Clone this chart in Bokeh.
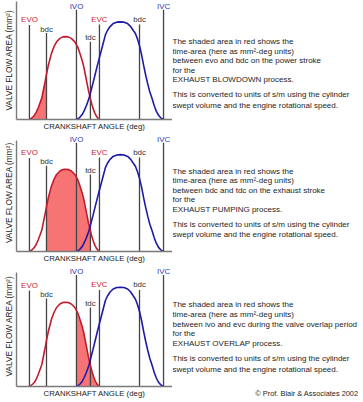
from bokeh.plotting import figure
from bokeh.models import Range1d, FixedTicker, Title
from bokeh.layouts import column, row
from bokeh.embed import file_html
from bokeh.resources import INLINE
from bokeh.core.properties import value

# ---------------- data ----------------
# exhaust valve flow area (red) vs crank angle, degrees
exhaust_deg = [114, 120, 127, 134, 141, 148, 155, 162, 168, 175, 180, 187, 193, 199,
               209, 219, 232, 243, 253, 264, 276, 286, 292, 296, 302, 312, 318, 324,
               330, 336, 342, 350, 356, 362, 368, 374, 380, 385]
exhaust_area = [0, 1, 2.5, 4.5, 7.7, 12, 17, 22, 30, 39, 46, 55, 61, 67,
                74, 79, 82.5, 84, 84.3, 84, 82.5, 80, 78, 76, 73, 65, 60, 54,
                46, 38, 30, 21, 15, 10, 6, 3, 1, 0]
# intake valve flow area (blue)
intake_deg = [296, 303, 310, 318, 326, 335, 344, 352, 360, 368, 376, 384, 392, 400,
              408, 416, 426, 438, 452, 466, 480, 494, 506, 516, 524, 532, 540, 548,
              556, 564, 572, 580, 589, 597, 605, 613, 621, 628, 634]
intake_area = [0, 1, 2.5, 5, 9, 14.5, 21, 29, 37, 45.5, 54, 62, 70, 78,
               86, 90.5, 94.5, 97.5, 99, 99.3, 99, 97.5, 94.5, 90.5, 87.5, 82, 75, 66,
               55, 45, 36, 28, 21, 14, 8.5, 4.5, 2, 0.7, 0]

# valve events / piston positions
event_names = ["EVO", "bdc", "IVO", "tdc", "EVC", "bdc", "IVC"]
event_deg = [114, 180, 296, 350, 385, 540, 633]
event_marker_top = [96, 88, 111.5, 79, 96.5, 96.5, 111.5]
event_label_at = [101.5, 92, 115, 83.5, 102, 102, 115]
event_kind = ["exhaust", "piston", "intake", "piston", "exhaust", "piston", "intake"]

# shaded time-area intervals of the three panels
shade_start = [114, 180, 296]
shade_end = [180, 350, 385]

panel_texts = [
    ["The shaded area in red shows the",
     "time-area (here as mm\u00b2-deg units)",
     "between evo and bdc on the power stroke",
     "for the",
     "EXHAUST BLOWDOWN process.",
     "This is converted to units of s/m using the cylinder",
     "swept volume and the engine rotational speed."],
    ["The shaded area in red shows the",
     "time-area (here as mm\u00b2-deg units)",
     "between bdc and tdc on the exhaust stroke",
     "for the",
     "EXHAUST PUMPING process.",
     "This is converted to units of s/m using the cylinder",
     "swept volume and the engine rotational speed."],
    ["The shaded area in red shows the",
     "time-area (here as mm\u00b2-deg units)",
     "between ivo and evc during the valve overlap period",
     "for the",
     "EXHAUST OVERLAP process.",
     "This is converted to units of s/m using the cylinder",
     "swept volume and the engine rotational speed."],
]
copyright_text = "\u00a9 Prof. Blair & Associates 2002"

# ---------------- layout / style ----------------
FONT = value("Liberation Sans")
X_START, X_END = 63.9, 667.7       # crank-angle span of the chart frame
Y_TOP = 121
CHART_W = 172
TEXT_W = 191
axis_tops = [120, 114, 114]
text_tops = [79.5, 82.3, 82.3]
line_offsets = [0, 10, 20, 29.3, 39, 54.3, 65]
fig_heights = [133, 132, 136]
bottom_borders = [12, 11, 15]

RED = "#c41a2e"
BLUE = "#1c1ca8"
FILL = "#f77474"
kind_color = {"exhaust": "#cc2233", "intake": "#3535b5", "piston": "#333333"}
label_colors = [kind_color[k] for k in event_kind]


def style_plain(p):
    p.outline_line_color = None
    p.grid.visible = False
    p.background_fill_color = "white"
    p.border_fill_color = "white"


def make_chart(i):
    p = figure(width=CHART_W, height=fig_heights[i], output_backend="svg",
               toolbar_location=None,
               x_range=Range1d(X_START, X_END), y_range=Range1d(0, Y_TOP),
               min_border_left=16, min_border_right=0, min_border_top=0,
               min_border_bottom=bottom_borders[i])
    style_plain(p)
    for ax in (p.xaxis[0], p.yaxis[0]):
        ax.ticker = FixedTicker(ticks=[])
        ax.major_tick_line_color = None
        ax.minor_tick_line_color = None
        ax.major_label_text_font_size = "0px"
        ax.major_label_standoff = 0
        ax.major_tick_out = 0
        ax.major_tick_in = 0
        ax.axis_line_color = "#7a7a7a"
        ax.axis_line_width = 1.4
        ax.axis_label_text_font = "Liberation Sans"
        ax.axis_label_text_font_style = "normal"
        ax.axis_label_text_color = "#222222"
    p.xaxis.axis_label = "CRANKSHAFT ANGLE (deg)"
    p.xaxis.axis_label_text_font_size = "7.8px"
    p.xaxis.axis_label_standoff = 2
    p.yaxis.axis_label = "VALVE FLOW AREA (mm\u00b2)"
    p.yaxis.axis_label_text_font_size = "8.3px"
    p.yaxis.axis_label_standoff = 3
    p.yaxis.bounds = (0, axis_tops[i])

    # shaded time-area under the exhaust curve
    xs = [d for d in exhaust_deg if shade_start[i] <= d <= shade_end[i]]
    ys = [a for d, a in zip(exhaust_deg, exhaust_area) if shade_start[i] <= d <= shade_end[i]]
    p.varea(x=xs, y1=[0] * len(xs), y2=ys, fill_color=FILL, fill_alpha=1.0)

    # event marker lines
    p.segment(x0=event_deg, y0=[0] * len(event_deg), x1=event_deg, y1=event_marker_top,
              line_color="#444444", line_width=1.3)

    # valve curves
    p.line(exhaust_deg, exhaust_area, line_color=RED, line_width=1.6)
    p.line(intake_deg, intake_area, line_color=BLUE, line_width=1.6)

    # event labels
    p.text(x=event_deg, y=event_label_at, text=event_names, text_color=label_colors,
           text_font=FONT, text_font_size="7.9px", text_align="center",
           text_baseline="middle")
    return p


def make_text(i):
    # frames in a row are aligned with the chart frame, so share its y scale
    p = figure(width=TEXT_W, height=fig_heights[i], output_backend="svg",
               toolbar_location=None, x_range=Range1d(0, TEXT_W),
               y_range=Range1d(0, Y_TOP),
               x_axis_location=None, y_axis_location=None,
               min_border_left=0, min_border_right=0, min_border_top=0,
               min_border_bottom=bottom_borders[i])
    style_plain(p)
    ty = [text_tops[i] - o for o in line_offsets]
    p.text(x=[0] * len(ty), y=ty, text=panel_texts[i], text_color="#1e1e1e",
           text_font=FONT, text_font_size="8px", text_align="left",
           text_baseline="middle")
    if i == 2:
        p.add_layout(Title(text=copyright_text, align="right", offset=5, standoff=0,
                           text_font="Liberation Sans", text_font_size="7.4px",
                           text_font_style="normal", text_color="#1e1e1e"), "below")
    return p


rows = [row(make_chart(i), make_text(i), spacing=0) for i in range(3)]
layout = column(*rows, spacing=0)
open("out.html", "w").write(file_html(layout, INLINE))
